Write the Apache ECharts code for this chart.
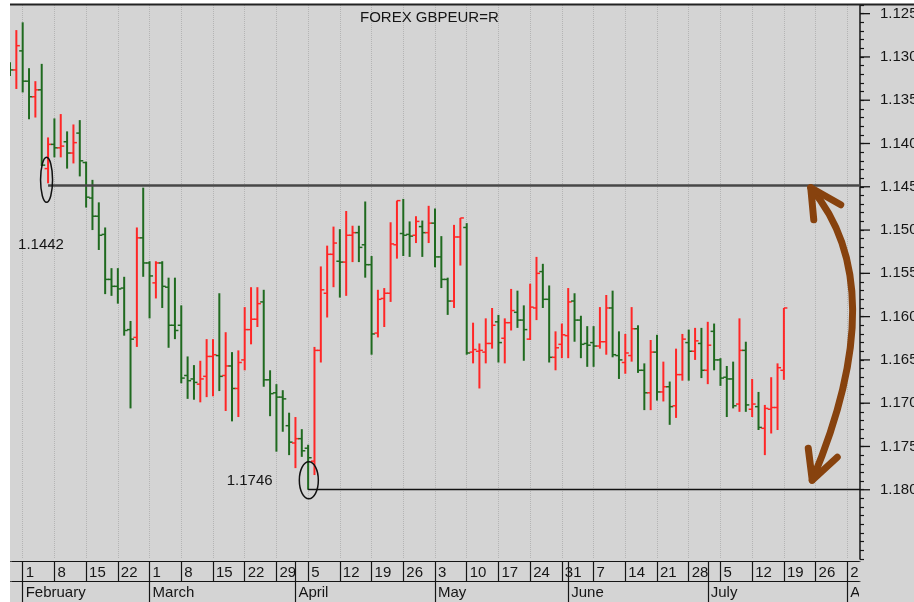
<!DOCTYPE html>
<html>
<head>
<meta charset="utf-8">
<script src="https://cdn.jsdelivr.net/npm/echarts@6/dist/echarts.min.js"></script>
<style>
html,body{margin:0;padding:0;background:#fff;}
#c{width:914px;height:602px;}
</style>
</head>
<body>
<div id="c"></div>
<script>
// ---------- DATA ----------
const title = 'FOREX GBPEUR=R';

// trading days (x categories)
const dates = [
'2010-01-28','2010-01-29',
'2010-02-01','2010-02-02','2010-02-03','2010-02-04','2010-02-05',
'2010-02-08','2010-02-09','2010-02-10','2010-02-11','2010-02-12',
'2010-02-15','2010-02-16','2010-02-17','2010-02-18','2010-02-19',
'2010-02-22','2010-02-23','2010-02-24','2010-02-25','2010-02-26',
'2010-03-01','2010-03-02','2010-03-03','2010-03-04','2010-03-05',
'2010-03-08','2010-03-09','2010-03-10','2010-03-11','2010-03-12',
'2010-03-15','2010-03-16','2010-03-17','2010-03-18','2010-03-19',
'2010-03-22','2010-03-23','2010-03-24','2010-03-25','2010-03-26',
'2010-03-29','2010-03-30','2010-03-31','2010-04-01','2010-04-02',
'2010-04-05','2010-04-06','2010-04-07','2010-04-08','2010-04-09',
'2010-04-12','2010-04-13','2010-04-14','2010-04-15','2010-04-16',
'2010-04-19','2010-04-20','2010-04-21','2010-04-22','2010-04-23',
'2010-04-26','2010-04-27','2010-04-28','2010-04-29','2010-04-30',
'2010-05-03','2010-05-04','2010-05-05','2010-05-06','2010-05-07',
'2010-05-10','2010-05-11','2010-05-12','2010-05-13','2010-05-14',
'2010-05-17','2010-05-18','2010-05-19','2010-05-20','2010-05-21',
'2010-05-24','2010-05-25','2010-05-26','2010-05-27','2010-05-28',
'2010-05-31','2010-06-01','2010-06-02','2010-06-03','2010-06-04',
'2010-06-07','2010-06-08','2010-06-09','2010-06-10','2010-06-11',
'2010-06-14','2010-06-15','2010-06-16','2010-06-17','2010-06-18',
'2010-06-21','2010-06-22','2010-06-23','2010-06-24','2010-06-25',
'2010-06-28','2010-06-29','2010-06-30','2010-07-01','2010-07-02',
'2010-07-05','2010-07-06','2010-07-07','2010-07-08','2010-07-09',
'2010-07-12','2010-07-13','2010-07-14','2010-07-15','2010-07-16',
'2010-07-19','2010-07-20','2010-07-21','2010-07-22','2010-07-23',
'2010-07-26','2010-07-27','2010-07-28','2010-07-29','2010-07-30',
'2010-08-02','2010-08-03','2010-08-04'
];

// OHLC values, from 2010-01-28 to 2010-07-19
const openV = [
1.1312,1.1315,
1.1293,1.1328,1.1346,1.1338,1.1429, 1.1401,1.1405,1.1398,1.1411,1.1388,
1.1422,1.1463,1.1484,1.1505,1.1557, 1.1565,1.1567,1.1615,1.1624,1.1509,
1.1538,1.1561,1.1538,1.1566,1.1610, 1.1610,1.1668,1.1672,1.1678,1.1669,
1.1646,1.1645,1.1668,1.1657,1.1683, 1.1650,1.1615,1.1603,1.1583,1.1673,
1.1688,1.1693,1.1726,1.1746,1.1741, 1.1752,1.1767,1.1639,1.1573,1.1528,
1.1536,1.1537,1.1506,1.1503,1.1517, 1.1540,1.1619,1.1579,1.1573,1.1517,
1.1504,1.1505,1.1506,1.1496,1.1503, 1.1492,1.1531,1.1557,1.1582,1.1508,
1.1497,1.1641,1.1640,1.1641,1.1631, 1.1606,1.1625,1.1607,1.1595,1.1604,
1.1626,1.1590,1.1548,1.1580,1.1647, 1.1632,1.1622,1.1582,1.1604,1.1631,
1.1630,1.1634,1.1629,1.1590,1.1645, 1.1653,1.1645,1.1614,1.1662,1.1688,
1.1641,1.1687,1.1681,1.1703,1.1667, 1.1630,1.1640,1.1631,1.1662,1.1617,
1.1650,1.1670,1.1672,1.1701,1.1639, 1.1707,1.1704,1.1729,1.1707,1.1705,
1.1662
];
const closeV = [
1.1315,1.1287,
1.1328,1.1346,1.1338,1.1425,1.1401, 1.1405,1.1403,1.1411,1.1399,1.1420,
1.1462,1.1484,1.1506,1.1557,1.1565, 1.1568,1.1616,1.1626,1.1509,1.1538,
1.1553,1.1538,1.1565,1.1610,1.1616, 1.1671,1.1674,1.1676,1.1672,1.1646,
1.1644,1.1669,1.1657,1.1683,1.1653, 1.1615,1.1603,1.1585,1.1673,1.1689,
1.1693,1.1695,1.1745,1.1741,1.1755, 1.1763,1.1639,1.1569,1.1528,1.1515,
1.1537,1.1506,1.1503,1.1520,1.1540, 1.1620,1.1580,1.1573,1.1516,1.1466,
1.1506,1.1507,1.1490,1.1503,1.1492, 1.1531,1.1557,1.1582,1.1508,1.1486,
1.1642,1.1638,1.1639,1.1631,1.1610, 1.1630,1.1607,1.1593,1.1604,1.1615,
1.1589,1.1550,1.1580,1.1647,1.1636, 1.1621,1.1583,1.1604,1.1632,1.1633,
1.1634,1.1629,1.1590,1.1644,1.1650, 1.1642,1.1614,1.1662,1.1688,1.1641,
1.1687,1.1681,1.1704,1.1667,1.1626, 1.1640,1.1628,1.1662,1.1633,1.1650,
1.1671,1.1672,1.1703,1.1639,1.1702, 1.1701,1.1728,1.1706,1.1705,1.1659,
1.1590
];
const lowV = [
1.1306,1.1269,
1.1260,1.1313,1.1328,1.1308,1.1393, 1.1371,1.1366,1.1386,1.1378,1.1373,
1.1421,1.1442,1.1468,1.1497,1.1544, 1.1544,1.1554,1.1605,1.1497,1.1451,
1.1536,1.1536,1.1536,1.1555,1.1555, 1.1587,1.1646,1.1656,1.1651,1.1626,
1.1626,1.1573,1.1618,1.1641,1.1639, 1.1589,1.1566,1.1566,1.1569,1.1662,
1.1678,1.1685,1.1711,1.1716,1.1730, 1.1748,1.1635,1.1542,1.1518,1.1496,
1.1499,1.1478,1.1495,1.1495,1.1467, 1.1530,1.1569,1.1567,1.1491,1.1466,
1.1464,1.1490,1.1484,1.1489,1.1472, 1.1475,1.1507,1.1555,1.1494,1.1486,
1.1492,1.1607,1.1631,1.1602,1.1590, 1.1598,1.1602,1.1568,1.1570,1.1587,
1.1562,1.1531,1.1539,1.1564,1.1617, 1.1608,1.1567,1.1573,1.1599,1.1611,
1.1611,1.1589,1.1575,1.1570,1.1617, 1.1620,1.1589,1.1610,1.1654,1.1627,
1.1621,1.1652,1.1675,1.1637,1.1620, 1.1615,1.1613,1.1613,1.1606,1.1608,
1.1648,1.1657,1.1652,1.1602,1.1629, 1.1672,1.1687,1.1702,1.1670,1.1654,
1.1590
];
const highV = [
1.1322,1.1337,
1.1341,1.1372,1.1370,1.1426,1.1446, 1.1416,1.1416,1.1429,1.1423,1.1438,
1.1474,1.1500,1.1523,1.1574,1.1576, 1.1585,1.1622,1.1706,1.1635,1.1554,
1.1602,1.1579,1.1590,1.1636,1.1626, 1.1677,1.1695,1.1696,1.1699,1.1693,
1.1692,1.1686,1.1709,1.1721,1.1716, 1.1662,1.1632,1.1612,1.1681,1.1715,
1.1756,1.1733,1.1760,1.1775,1.1762, 1.1800,1.1783,1.1653,1.1601,1.1566,
1.1578,1.1576,1.1537,1.1537,1.1555, 1.1644,1.1624,1.1612,1.1583,1.1533,
1.1530,1.1531,1.1515,1.1531,1.1515, 1.1543,1.1567,1.1598,1.1590,1.1541,
1.1644,1.1654,1.1683,1.1654,1.1637, 1.1653,1.1654,1.1616,1.1613,1.1651,
1.1627,1.1604,1.1590,1.1653,1.1662, 1.1648,1.1648,1.1629,1.1648,1.1658,
1.1658,1.1637,1.1644,1.1647,1.1672, 1.1666,1.1652,1.1665,1.1708,1.1708,
1.1697,1.1698,1.1725,1.1717,1.1674, 1.1674,1.1650,1.1671,1.1678,1.1662,
1.1680,1.1716,1.1706,1.1710,1.1710, 1.1716,1.1731,1.1760,1.1735,1.1731,
1.1673
];

// x-axis tick labels
const weekTicks = ['2010-02-01','2010-02-08','2010-02-15','2010-02-22',
'2010-03-01','2010-03-08','2010-03-15','2010-03-22','2010-03-29',
'2010-04-05','2010-04-12','2010-04-19','2010-04-26',
'2010-05-03','2010-05-10','2010-05-17','2010-05-24','2010-05-31',
'2010-06-07','2010-06-14','2010-06-21','2010-06-28',
'2010-07-05','2010-07-12','2010-07-19','2010-07-26','2010-08-02'];
const weekLabels = ['1','8','15','22','1','8','15','22','29','5','12','19','26',
'3','10','17','24','31','7','14','21','28','5','12','19','26','2'];
const monthStarts = ['2010-02-01','2010-03-01','2010-04-01','2010-05-03','2010-06-01','2010-07-01','2010-08-02'];
const monthNames = ['February','March','April','May','June','July','August'];

// y-axis labels
const yTickValues = [1.125,1.130,1.135,1.140,1.145,1.150,1.155,1.160,1.165,1.170,1.175,1.180];
const yTickLabels = ['1.125','1.130','1.135','1.140','1.145','1.150','1.155','1.160','1.165','1.170','1.175','1.180'];

// annotations
const levelTop = {from:'2010-02-05', value:1.1448};
const levelBottom = {from:'2010-04-05', value:1.1800};
const noteTop = {date:'2010-02-05', value:1.1442, text:'1.1442'};
const noteBottom = {date:'2010-04-05', value:1.1789, text:'1.1746'};
const arrowSpan = {date:'2010-07-23', top:1.1450, bottom:1.1789};

// ---------- STYLE ----------
const RED = '#ff2626';
const GREEN = '#1f6a1f';
const BG = '#d4d4d4';
const FONT = '"Liberation Sans", Arial, sans-serif';
const INK = '#151515';

const ohlcData = openV.map((o, i) => [i, o, closeV[i], lowV[i], highV[i]]);
const weekSet = new Set(weekTicks);
const monthSet = new Set(monthStarts);
const isWeek = (i, v) => weekSet.has(v) || weekSet.has(dates[i]);
const isMonth = (i, v) => monthSet.has(v) || monthSet.has(dates[i]);

const chart = echarts.init(document.getElementById('c'), null, {width:914, height:602});

const option = {
  animation: false,
  backgroundColor: BG,
  textStyle: {fontFamily: FONT},
  title: {
    text: title, left: 360, top: 10, padding: 0,
    textStyle: {fontSize: 15, fontWeight: 'normal', color: INK, fontFamily: FONT}
  },
  grid: {left: 10, right: 54, top: 5, bottom: 43, containLabel: false, outerBoundsMode: 'none'},
  xAxis: [
    {
      type: 'category', data: dates, boundaryGap: false, position: 'bottom', offset: 2,
      axisLine: {show: true, lineStyle: {color: INK, width: 1.2}},
      axisTick: {show: true, length: 20, interval: (i, v) => isWeek(i, v) || isMonth(i, v),
                 lineStyle: {color: INK, width: 1.2}},
      axisLabel: {show: true, interval: isWeek,
                  formatter: v => weekLabels[weekTicks.indexOf(v)] || '',
                  align: 'left', verticalAlign: 'top', margin: 4, padding: [0,0,0,3],
                  fontSize: 15, color: INK, fontFamily: FONT, hideOverlap: false},
      splitLine: {show: true, interval: isWeek,
                  lineStyle: {color: '#b4b4b4', type: 'dotted', width: 1}}
    },
    {
      type: 'category', data: dates, boundaryGap: false, position: 'bottom', offset: 22,
      axisLine: {show: true, lineStyle: {color: INK, width: 1.2}},
      axisTick: {show: true, length: 21, interval: isMonth,
                 lineStyle: {color: INK, width: 1.2}},
      axisLabel: {show: true, interval: isMonth,
                  formatter: v => monthNames[monthStarts.indexOf(v)] || '',
                  align: 'left', verticalAlign: 'top', margin: 4, padding: [0,0,0,3],
                  fontSize: 15, color: INK, fontFamily: FONT, hideOverlap: false},
      splitLine: {show: false}
    }
  ],
  yAxis: {
    type: 'value', position: 'right', inverse: true,
    min: 1.124, max: 1.188, interval: 0.001,
    axisLine: {show: true, lineStyle: {color: INK, width: 1.5}},
    axisTick: {show: true, length: 4, lineStyle: {color: INK, width: 1.2}},
    axisLabel: {
      margin: 20, fontSize: 15, color: INK, fontFamily: FONT,
      formatter: v => {
        const k = yTickValues.findIndex(t => Math.abs(t - v) < 1e-7);
        return k >= 0 ? yTickLabels[k] : '';
      }
    },
    splitLine: {show: false}
  },
  series: [
    {
      type: 'custom', name: 'GBPEUR', xAxisIndex: 0, yAxisIndex: 0, clip: true,
      encode: {x: 0, y: [1, 2, 3, 4]},
      data: ohlcData,
      renderItem: function (params, api) {
        const xi = api.value(0);
        const o = api.coord([xi, api.value(1)]);
        const c = api.coord([xi, api.value(2)]);
        const l = api.coord([xi, api.value(3)]);
        const h = api.coord([xi, api.value(4)]);
        const color = api.value(2) < api.value(1) ? RED : GREEN;
        const x = o[0];
        return {
          type: 'group',
          children: [
            {type: 'line', shape: {x1: x, y1: l[1], x2: x, y2: h[1]}, style: {stroke: color, lineWidth: 2}},
            {type: 'line', shape: {x1: x - 3.5, y1: o[1], x2: x, y2: o[1]}, style: {stroke: color, lineWidth: 1.5}},
            {type: 'line', shape: {x1: x, y1: c[1], x2: x + 3.5, y2: c[1]}, style: {stroke: color, lineWidth: 1.5}}
          ]
        };
      },
      markLine: {
        silent: true, symbol: 'none', animation: false,
        label: {show: false},
        data: [
          [{coord: [levelTop.from, levelTop.value], lineStyle: {color: '#474747', width: 2.5, type: 'solid'}},
           {coord: [dates[dates.length - 1], levelTop.value]}],
          [{coord: [levelBottom.from, levelBottom.value], lineStyle: {color: '#111', width: 1.3, type: 'solid'}},
           {coord: [dates[dates.length - 1], levelBottom.value]}]
        ]
      },
      z: 3
    },
    {
      // long (major) ticks of the value axis
      type: 'custom', name: 'majorTicks', xAxisIndex: 0, yAxisIndex: 0, clip: false, silent: true,
      encode: {x: 0, y: 1},
      data: yTickValues.map(v => [0, v]),
      renderItem: function (params, api) {
        const p = api.coord([0, api.value(1)]);
        const right = params.coordSys.x + params.coordSys.width;
        return {type: 'line', shape: {x1: right, y1: p[1], x2: right + 10, y2: p[1]},
                style: {stroke: INK, lineWidth: 1.3}};
      },
      z: 4
    }
  ]
};
chart.setOption(option);

// ---------- ANNOTATIONS (anchored on data coordinates) ----------
const toPx = (d, v) => chart.convertToPixel({seriesIndex: 0}, [dates.indexOf(d), v]);
const e1 = toPx(noteTop.date, noteTop.value);
const e2 = toPx(noteBottom.date, noteBottom.value);
const aT = toPx(arrowSpan.date, arrowSpan.top);
const aB = toPx(arrowSpan.date, arrowSpan.bottom);
const tipT = [aT[0] + 1.5, aT[1] + 1];
const tipB = [aB[0] + 3, aB[1]];
const BROWN = '#87420e';

chart.setOption({
  graphic: [
    {type: 'rect', shape: {x: 0, y: 0, width: 10, height: 602}, style: {fill: '#fff'}, z: 200, silent: true},
    {type: 'rect', shape: {x: 0, y: 0, width: 914, height: 4}, style: {fill: '#fff'}, z: 200, silent: true},
    {type: 'line', shape: {x1: 10, y1: 4.5, x2: 914, y2: 4.5}, style: {stroke: '#222', lineWidth: 2}, z: 201, silent: true},
    {type: 'rect', shape: {x: 861, y: 561, width: 53, height: 41}, style: {fill: BG}, z: 200, silent: true},
    // hide the end caps of the date rows
    {type: 'rect', shape: {x: 10, y: 561.8, width: 2, height: 18.4}, style: {fill: BG}, z: 200, silent: true},
    {type: 'rect', shape: {x: 10, y: 581.8, width: 2, height: 20.2}, style: {fill: BG}, z: 200, silent: true},
    {type: 'rect', shape: {x: 859, y: 561.8, width: 3, height: 18.4}, style: {fill: BG}, z: 200, silent: true},
    {type: 'rect', shape: {x: 859, y: 581.8, width: 3, height: 20.2}, style: {fill: BG}, z: 200, silent: true},
    {type: 'ellipse', shape: {cx: e1[0] - 1.5, cy: e1[1], rx: 6, ry: 22.5},
     style: {fill: 'none', stroke: '#111', lineWidth: 1.5}, z: 150, silent: true},
    {type: 'ellipse', shape: {cx: e2[0] + 0.7, cy: e2[1], rx: 9.5, ry: 18.5},
     style: {fill: 'none', stroke: '#111', lineWidth: 1.5}, z: 150, silent: true},
    {type: 'text', x: e1[0] - 30, y: e1[1] + 65, z: 150, silent: true,
     style: {text: noteTop.text, fill: INK, font: '15px ' + FONT, align: 'left', verticalAlign: 'middle',
             textAlign: 'left', textVerticalAlign: 'middle'}},
    {type: 'text', x: e2[0] - 35.5, y: e2[1] + 1, z: 150, silent: true,
     style: {text: noteBottom.text, fill: INK, font: '15px ' + FONT, align: 'right', verticalAlign: 'middle',
             textAlign: 'right', textVerticalAlign: 'middle'}},
    {type: 'bezierCurve', z: 160, silent: true,
     shape: {x1: tipT[0], y1: tipT[1], x2: tipB[0], y2: tipB[1],
             cpx1: tipT[0] + 83, cpy1: (tipT[1] + tipB[1]) / 2 - 48},
     style: {stroke: BROWN, lineWidth: 7, fill: 'none', lineCap: 'round'}},
    {type: 'polyline', z: 160, silent: true,
     shape: {points: [[tipT[0] + 3, tipT[1] + 32], [tipT[0], tipT[1]], [tipT[0] + 30, tipT[1] + 17]]},
     style: {stroke: BROWN, lineWidth: 7, fill: 'none', lineCap: 'round', lineJoin: 'round'}},
    {type: 'polyline', z: 160, silent: true,
     shape: {points: [[tipB[0] - 4, tipB[1] - 32], [tipB[0], tipB[1]], [tipB[0] + 25, tipB[1] - 23]]},
     style: {stroke: BROWN, lineWidth: 7, fill: 'none', lineCap: 'round', lineJoin: 'round'}}
  ]
});
</script>
</body>
</html>
